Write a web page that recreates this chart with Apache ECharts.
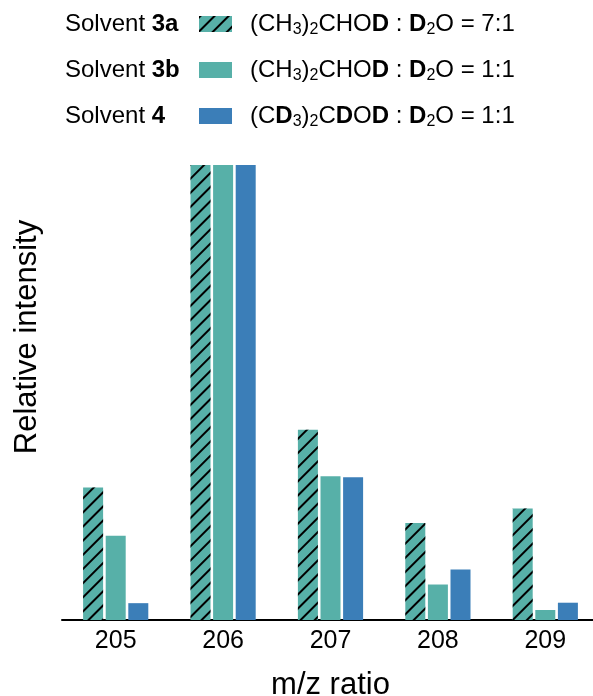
<!DOCTYPE html>
<html>
<head>
<meta charset="utf-8">
<script src="https://cdn.jsdelivr.net/npm/echarts@6/dist/echarts.min.js"></script>
<style>
html,body{margin:0;padding:0;background:#fff;}
#c{width:593px;height:696px;}
</style>
</head>
<body>
<div id="c"></div>
<script>
var categories = ['205', '206', '207', '208', '209'];
var solvent3a = [29.1, 100, 41.8, 21.3, 24.5];
var solvent3b = [18.5, 100, 31.6, 7.8, 2.2];
var solvent4 = [3.7, 100, 31.4, 11.1, 3.8];
var seriesNames = ['3a', '3b', '4'];
var legendFormulas = [
  '(CH{s|3}){s|2}CHO{b|D} : {b|D}{s|2}O = 7:1',
  '(CH{s|3}){s|2}CHO{b|D} : {b|D}{s|2}O = 1:1',
  '(C{b|D}{s|3}){s|2}C{b|D}O{b|D} : {b|D}{s|2}O = 1:1'
];

var FONT = 'Liberation Sans, Arial, sans-serif';
var TEAL = '#57b0a8';
var BLUE = '#3b7eb8';

var richStyles = {
  s: {fontSize: 16, fontFamily: FONT, color: '#000', padding: [12, 0, 0, 0]},
  b: {fontSize: 24, fontFamily: FONT, fontWeight: 'bold', color: '#000'}
};

var chart = echarts.init(document.getElementById('c'));

var legendTops = [15, 61, 107];
var legends = seriesNames.map(function (n, i) {
  return {
    data: [n],
    left: 199,
    top: legendTops[i] - 3,
    padding: 0,
    orient: 'vertical',
    itemWidth: 33,
    itemHeight: 16,
    icon: 'rect',
    selectedMode: false,
    textStyle: {fontSize: 24, fontFamily: FONT, color: '#000', padding: [0, 0, 0, 13], rich: richStyles},
    formatter: function () { return legendFormulas[i]; }
  };
});

var solventLabels = ['3a', '3b', '4'].map(function (n, i) {
  return {
    type: 'text',
    left: 65,
    top: legendTops[i] - 3,
    style: {
      text: 'Solvent {b|' + n + '}',
      fontSize: 24,
      fontFamily: FONT,
      fill: '#000',
      rich: {b: {fontSize: 24, fontFamily: FONT, fontWeight: 'bold'}}
    }
  };
});

chart.setOption({
  animation: false,
  backgroundColor: '#fff',
  legend: legends,
  graphic: solventLabels.concat([{
    type: 'text',
    x: 12,
    y: 337,
    rotation: Math.PI / 2,
    style: {
      text: 'Relative intensity',
      fontSize: 31,
      fontFamily: FONT,
      fill: '#000',
      align: 'center',
      verticalAlign: 'top'
    }
  }]),
  grid: {left: 62, right: -6, top: 165, bottom: 76, outerBoundsMode: 'none', containLabel: false},
  xAxis: {
    type: 'category',
    data: categories,
    axisLine: {lineStyle: {color: '#000', width: 2}},
    axisTick: {show: false},
    axisLabel: {fontSize: 25, fontFamily: FONT, color: '#000', margin: 9},
    name: 'm/z ratio',
    nameLocation: 'middle',
    nameGap: 50,
    nameTextStyle: {fontSize: 31, fontFamily: FONT, color: '#000'}
  },
  yAxis: {
    type: 'value',
    min: 0,
    max: 100,
    show: false
  },
  series: [
    {
      name: '3a', type: 'bar', data: solvent3a, barWidth: 20, barGap: '13%',
      itemStyle: {
        color: TEAL,
        decal: {symbol: 'rect', color: '#000', dashArrayX: [1, 0], dashArrayY: [1.4, 7.6], rotation: -Math.PI / 4, symbolSize: 1}
      }
    },
    {name: '3b', type: 'bar', data: solvent3b, barWidth: 20, barGap: '13%', itemStyle: {color: TEAL}},
    {name: '4', type: 'bar', data: solvent4, barWidth: 20, barGap: '13%', itemStyle: {color: BLUE}}
  ]
});
</script>
</body>
</html>
